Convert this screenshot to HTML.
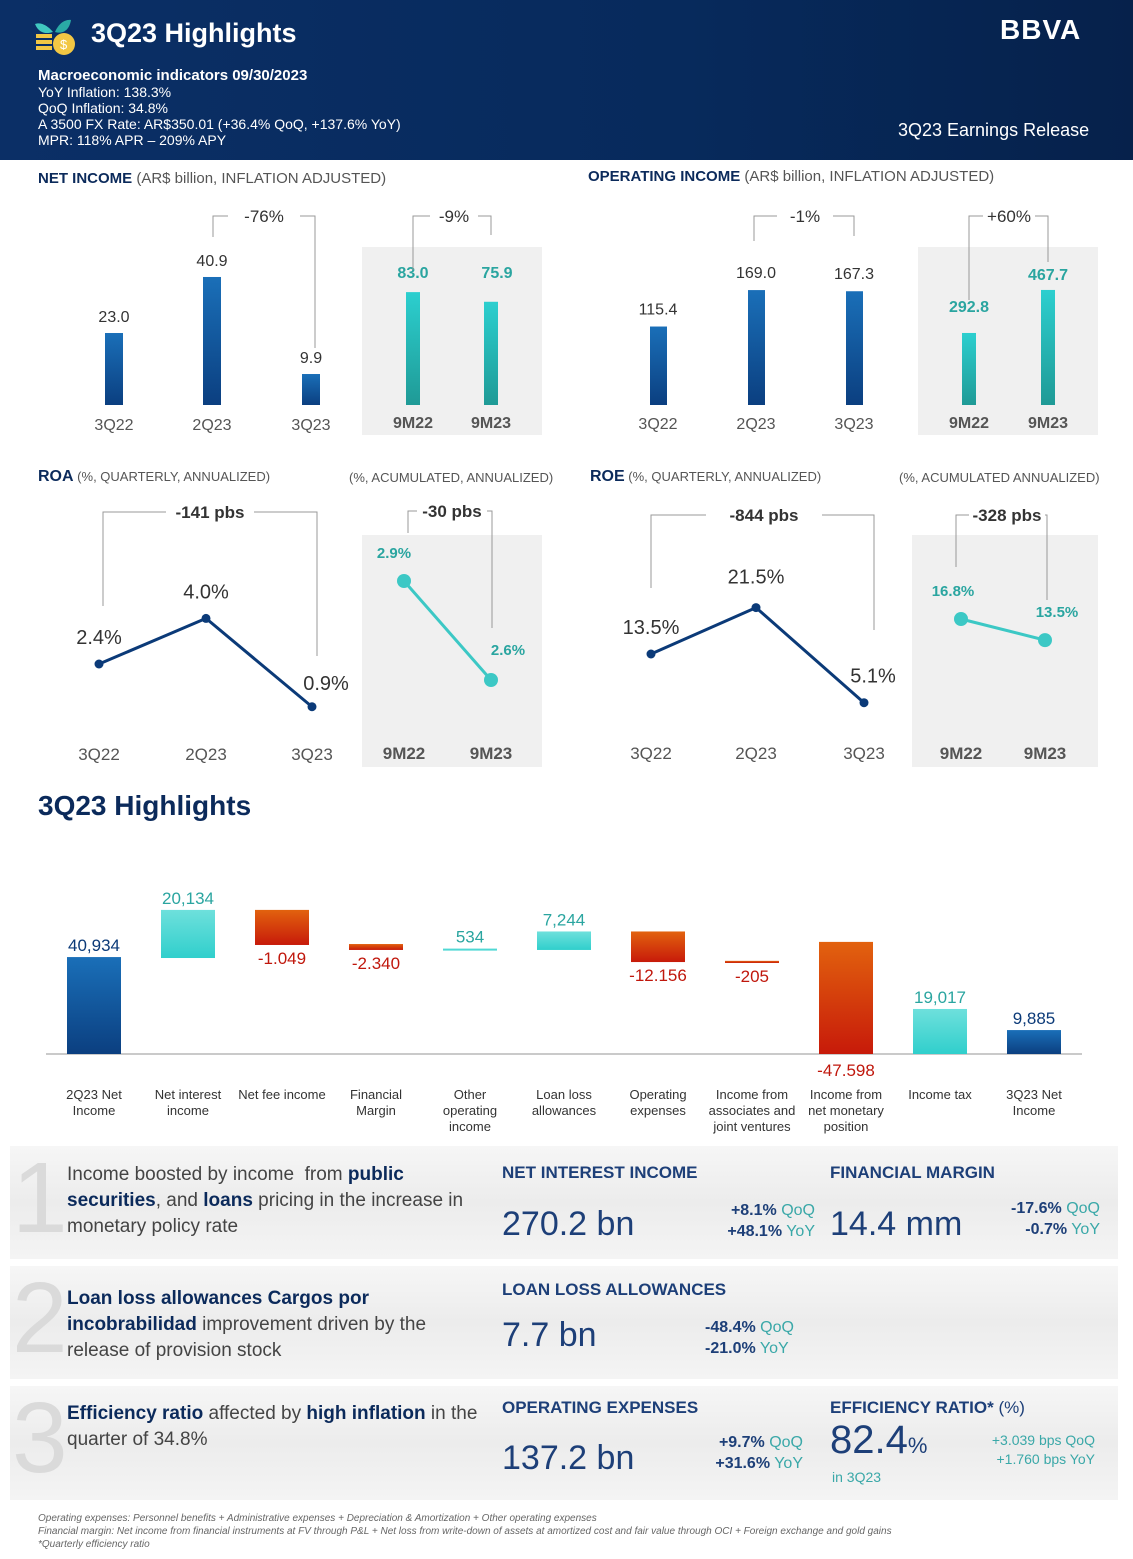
<!DOCTYPE html>
<html><head><meta charset="utf-8">
<style>
*{margin:0;padding:0;box-sizing:border-box}
body{width:1133px;height:1559px;position:relative;background:#fff;font-family:"Liberation Sans",sans-serif;overflow:hidden;color:#333}
.abs{position:absolute;white-space:nowrap}
#hdr{position:absolute;left:0;top:0;width:1133px;height:160px;background:linear-gradient(90deg,#0b2f66 0%,#072a5c 60%,#06214b 100%)}
.sect{font-size:15px;color:#555}
.sect b{color:#0b2a5b}
.panel{position:absolute;left:10px;width:1108px;background:linear-gradient(180deg,#f6f6f6,#ececec 50%,#f4f4f4)}
.big{font-size:34px;color:#1d3f78;font-weight:300}
.kt{font-size:17px;font-weight:bold;color:#1d3f78}
.chg{font-size:16px;color:#1d3f78;text-align:right;line-height:21px}
.chg b{font-weight:bold}
.chg span{color:#3aa8a8}
.desc{font-size:19px;color:#444;line-height:26px}
.desc b{color:#0b2a5b}
.num{font-size:100px;color:#dadada;font-weight:300;line-height:100px}
</style></head><body>
<div id="hdr">
  <svg class="abs" style="left:33px;top:16px" width="48" height="40">
    <path d="M20 16 C10 4 2 8 2 8 C6 18 14 18 20 16Z" fill="#41c8c0"/>
    <path d="M22 16 C28 2 38 4 38 4 C36 16 28 18 22 16Z" fill="#2aaaa5"/>
    <rect x="3" y="18" width="16" height="4" fill="#f2c744"/><rect x="3" y="24" width="16" height="4" fill="#f2c744"/><rect x="3" y="30" width="16" height="4" fill="#f2c744"/>
    <circle cx="31" cy="28" r="11" fill="#f2c744"/><text x="27" y="33" font-size="13" fill="#fff" font-family="Liberation Sans">$</text>
  </svg>
  <div class="abs" style="left:91px;top:18px;font-size:27px;color:#fff;font-weight:bold">3Q23 Highlights</div>
  <div class="abs" style="left:1000px;top:14px;font-size:28px;color:#fff;font-weight:bold;letter-spacing:1px">BBVA</div>
  <div class="abs" style="left:38px;top:67px;font-size:14px;color:#fff;line-height:16px">
    <b style="font-size:15px">Macroeconomic indicators 09/30/2023</b><br>YoY Inflation: 138.3%<br>QoQ Inflation: 34.8%<br>A 3500 FX Rate: AR$350.01 (+36.4% QoQ, +137.6% YoY)<br>MPR: 118% APR – 209% APY
  </div>
  <div class="abs" style="left:898px;top:120px;font-size:18px;color:#fff">3Q23 Earnings Release</div>
</div>

<div class="abs sect" style="left:38px;top:170px"><b>NET INCOME</b> (AR$ billion, INFLATION ADJUSTED)</div>
<div class="abs sect" style="left:588px;top:168px"><b>OPERATING INCOME</b> (AR$ billion, INFLATION ADJUSTED)</div>
<div class="abs sect" style="left:38px;top:468px;font-size:13px"><b style="font-size:16px">ROA</b> (%, QUARTERLY, ANNUALIZED)</div>
<div class="abs sect" style="left:349px;top:470px;font-size:13px">(%, ACUMULATED, ANNUALIZED)</div>
<div class="abs sect" style="left:590px;top:468px;font-size:13px"><b style="font-size:16px">ROE</b> (%, QUARTERLY, ANNUALIZED)</div>
<div class="abs sect" style="left:899px;top:470px;font-size:13px">(%, ACUMULATED ANNUALIZED)</div>
<div class="abs" style="left:38px;top:790px;font-size:28px;font-weight:bold;color:#0b2a5b">3Q23 Highlights</div>

<svg id="charts" class="abs" style="left:0;top:0" width="1133" height="1140">
  <defs>
    <linearGradient id="gBlue" x1="0" y1="0" x2="0" y2="1"><stop offset="0" stop-color="#1a6fb8"/><stop offset="1" stop-color="#0b3f80"/></linearGradient>
    <linearGradient id="gTeal" x1="0" y1="0" x2="0" y2="1"><stop offset="0" stop-color="#2ccfcf"/><stop offset="1" stop-color="#1f9a96"/></linearGradient>
    <linearGradient id="gAqua" x1="0" y1="0" x2="0" y2="1"><stop offset="0" stop-color="#6ee0dc"/><stop offset="1" stop-color="#30cfcc"/></linearGradient>
    <linearGradient id="gRed" x1="0" y1="0" x2="0" y2="1"><stop offset="0" stop-color="#e2620e"/><stop offset="1" stop-color="#c71a0a"/></linearGradient>
  </defs>
</svg>

<div class="panel" style="top:1146px;height:113px"></div>
<div class="panel" style="top:1266px;height:113px"></div>
<div class="panel" style="top:1386px;height:114px"></div>

<div class="abs num" style="left:12px;top:1148px">1</div>
<div class="abs num" style="left:12px;top:1268px">2</div>
<div class="abs num" style="left:12px;top:1388px">3</div>

<div class="abs desc" style="left:67px;top:1162px">Income boosted by income&nbsp; from <b>public</b><br><b>securities</b>, and <b>loans</b> pricing in the increase in<br>monetary policy rate</div>
<div class="abs desc" style="left:67px;top:1286px"><b>Loan loss allowances Cargos por</b><br><b>incobrabilidad</b> improvement driven by the<br>release of provision stock</div>
<div class="abs desc" style="left:67px;top:1401px"><b>Efficiency ratio</b> affected by <b>high inflation</b> in the<br>quarter of 34.8%</div>

<div class="abs kt" style="left:502px;top:1163px">NET INTEREST INCOME</div>
<div class="abs big" style="left:502px;top:1205px">270.2 bn</div>
<div class="abs chg" style="left:705px;top:1200px;width:110px"><b>+8.1%</b> <span>QoQ</span><br><b>+48.1%</b> <span>YoY</span></div>
<div class="abs kt" style="left:830px;top:1163px">FINANCIAL MARGIN</div>
<div class="abs big" style="left:830px;top:1205px">14.4 mm</div>
<div class="abs chg" style="left:990px;top:1198px;width:110px"><b>-17.6%</b> <span>QoQ</span><br><b>-0.7%</b> <span>YoY</span></div>

<div class="abs kt" style="left:502px;top:1280px">LOAN LOSS ALLOWANCES</div>
<div class="abs big" style="left:502px;top:1316px">7.7 bn</div>
<div class="abs chg" style="left:705px;top:1317px;width:102px;text-align:left"><b>-48.4%</b> <span>QoQ</span><br><b>-21.0%</b> <span>YoY</span></div>

<div class="abs kt" style="left:502px;top:1398px">OPERATING EXPENSES</div>
<div class="abs big" style="left:502px;top:1439px">137.2 bn</div>
<div class="abs chg" style="left:695px;top:1432px;width:108px"><b>+9.7%</b> <span>QoQ</span><br><b>+31.6%</b> <span>YoY</span></div>
<div class="abs kt" style="left:830px;top:1398px;font-weight:bold">EFFICIENCY RATIO* <span style="font-weight:normal">(%)</span></div>
<div class="abs big" style="left:830px;top:1418px;font-size:40px">82.4<span style="font-size:22px">%</span></div>
<div class="abs" style="left:832px;top:1469px;font-size:14px;color:#3aa8a8">in 3Q23</div>
<div class="abs" style="left:960px;top:1431px;width:135px;font-size:14px;color:#3aa8a8;text-align:right;line-height:19px">+3.039 bps QoQ<br>+1.760 bps YoY</div>

<div class="abs" style="left:38px;top:1512px;font-size:10px;color:#666;font-style:italic;line-height:13px">Operating expenses: Personnel benefits + Administrative expenses + Depreciation &amp; Amortization + Other operating expenses<br>Financial margin: Net income from financial instruments at FV through P&amp;L + Net loss from write-down of assets at amortized cost and fair value through OCI + Foreign exchange and gold gains<br>*Quarterly efficiency ratio</div>

<script>
// Net income
var niCats = ["3Q22","2Q23","3Q23"];
var niVals = [23.0, 40.9, 9.9];
var niAccCats = ["9M22","9M23"];
var niAccVals = [83.0, 75.9];
// Operating income
var oiCats = ["3Q22","2Q23","3Q23"];
var oiVals = [115.4, 169.0, 167.3];
var oiAccCats = ["9M22","9M23"];
var oiAccVals = [292.8, 467.7];
// ROA / ROE
var roaVals = [2.4, 4.0, 0.9];
var roaAccVals = [2.9, 2.6];
var roeVals = [13.5, 21.5, 5.1];
var roeAccVals = [16.8, 13.5];
// Waterfall
var wfCats = [["2Q23 Net","Income"],["Net interest","income"],["Net fee income"],["Financial","Margin"],["Other","operating","income"],["Loan loss","allowances"],["Operating","expenses"],["Income from","associates and","joint ventures"],["Income from","net monetary","position"],["Income tax"],["3Q23 Net","Income"]];
var wfLow  = [0, 40.5, 46.0, 43.9, 43.9, 43.9, 38.8, 38.4, 0, 0, 0];
var wfHigh = [40.9, 60.8, 60.8, 46.4, 44.5, 51.7, 51.7, 39.3, 47.3, 19.0, 10.1];
var wfLabels = ["40,934","20,134","-1.049","-2.340","534","7,244","-12.156","-205","-47.598","19,017","9,885"];
var wfKind = ["total","up","down","down","up","up","down","down","down","up","total"];

var svg = document.getElementById('charts');
var NS = "http://www.w3.org/2000/svg";
function el(tag, attrs, name, parent){
  var e = document.createElementNS(NS, tag);
  for (var k in attrs) e.setAttribute(k, attrs[k]);
  
  
  (parent||svg).appendChild(e);
  return e;
}
function txt(x,y,s,opts,name){
  var a = {x:x,y:y,"font-family":"Liberation Sans, sans-serif","font-size":opts.size||16,fill:opts.fill||"#333","text-anchor":opts.anchor||"middle"};
  if(opts.bold) a["font-weight"]="bold";
  var t = el('text', a, name);
  t.textContent = s;
  return t;
}
function bracket(x1,y1b,x2,y2b,yTop,label,lx,gap,name){
  var p = "M"+x1+","+y1b+" V"+yTop+" H"+(lx-gap)+" M"+(lx+gap)+","+yTop+" H"+x2+" V"+y2b;
  el('path',{d:p,fill:"none",stroke:"#999","stroke-width":1},name+"-line");
  txt(lx,yTop+6,label,{size:17,fill:"#333",bold:label.indexOf('pbs')>=0},name+"-label");
}
function panel(x,y,w,h,name){ el('rect',{x:x,y:y,width:w,height:h,fill:"#f0f0f0"},name); }

// ---- Net income ----
panel(362,247,180,188,"net-income-accum-bg");
var niX = [114,212,311], niBase=405, niK=3.13;
niVals.forEach(function(v,i){
  var h=v*niK;
  el('rect',{x:niX[i]-9,y:niBase-h,width:18,height:h,fill:"url(#gBlue)"},"net-income-bar-"+niCats[i].toLowerCase());
  txt(niX[i],niBase-h-11,v.toFixed(1),{size:16},"net-income-value-"+niCats[i].toLowerCase());
  txt(niX[i],430,niCats[i],{size:16,fill:"#555"},"net-income-x-label");
});
var niAX=[413,491], niAK=1.36;
niAccVals.forEach(function(v,i){
  var h=v*niAK;
  el('rect',{x:niAX[i]-7,y:niBase-h,width:14,height:h,fill:"url(#gTeal)"},"net-income-accum-bar");
  txt(niAX[i]+(i?6:0),278,v.toFixed(1),{size:16,fill:"#2aa5a0",bold:true},"net-income-accum-value");
  txt(niAX[i],428,niAccCats[i],{size:16,fill:"#555",bold:true},"net-income-accum-x-label");
});
bracket(213,237,315,348,216,"-76%",264,36,"net-income-change-bracket");
bracket(413,270,491,235,216,"-9%",454,24,"net-income-accum-change-bracket");

// ---- Operating income ----
panel(918,247,180,188,"operating-income-accum-bg");
var oiX=[658,756,854], oiK=0.68;
oiVals.forEach(function(v,i){
  var h=v*oiK;
  el('rect',{x:oiX[i]-8,y:niBase-h,width:17,height:h,fill:"url(#gBlue)"},"operating-income-bar");
  txt(oiX[i],niBase-h-12,v.toFixed(1),{size:16},"operating-income-value");
  txt(oiX[i],429,oiCats[i],{size:16,fill:"#555"},"operating-income-x-label");
});
var oiAX=[969,1048], oiAK=0.246;
oiAccVals.forEach(function(v,i){
  var h=v*oiAK;
  el('rect',{x:oiAX[i]-7,y:niBase-h,width:14,height:h,fill:"url(#gTeal)"},"operating-income-accum-bar");
  txt(oiAX[i],niBase-h-(i?10:21),v.toFixed(1),{size:16,fill:"#2aa5a0",bold:true},"operating-income-accum-value");
  txt(oiAX[i],428,oiAccCats[i],{size:16,fill:"#555",bold:true},"operating-income-accum-x-label");
});
bracket(754,241,854,236,216,"-1%",805,28,"operating-income-change-bracket");
bracket(969,300,1048,262,216,"+60%",1009,26,"operating-income-accum-change-bracket");

// ---- ROA ----
panel(362,535,180,232,"roa-accum-bg");
function lineChart(xs,vals,y0,v0,k,color,r,w,name,lblOff,lblSize,bold){
  var pts = vals.map(function(v,i){return [xs[i], y0-(v-v0)*k];});
  el('polyline',{points:pts.map(function(p){return p.join(',');}).join(' '),fill:"none",stroke:color,"stroke-width":w},name+"-line");
  pts.forEach(function(p,i){
    el('circle',{cx:p[0],cy:p[1],r:r,fill:color},name+"-point");
    txt(p[0]+lblOff[i][0],p[1]+lblOff[i][1],vals[i].toFixed(1)+"%",{size:lblSize,fill:bold?"#2aa5a0":"#333",bold:bold},name+"-value-label");
  });
}
lineChart([99,206,312],roaVals,664,2.4,28.5,"#0b3a78",4.5,3,"roa",[[0,-20],[0,-20],[14,-17]],20,false);
lineChart([404,491],roaAccVals,581,2.9,330,"#3cc8c5",7,3,"roa-accum",[[-10,-23],[17,-25]],15,true);
["3Q22","2Q23","3Q23"].forEach(function(c,i){txt([99,206,312][i],760,c,{size:17,fill:"#555"},"roa-x-label");});
["9M22","9M23"].forEach(function(c,i){txt([404,491][i],759,c,{size:17,fill:"#555",bold:true},"roa-accum-x-label");});
bracket(103,606,317,656,512,"-141 pbs",210,44,"roa-change-bracket");
bracket(408,533,492,628,511,"-30 pbs",452,35,"roa-accum-change-bracket");

// ---- ROE ----
panel(912,535,186,232,"roe-accum-bg");
lineChart([651,756,864],roeVals,654,13.5,5.8,"#0b3a78",4.5,3,"roe",[[0,-20],[0,-24],[9,-20]],20,false);
lineChart([961,1045],roeAccVals,619,16.8,6.4,"#3cc8c5",7,3,"roe-accum",[[-8,-23],[12,-23]],15,true);
["3Q22","2Q23","3Q23"].forEach(function(c,i){txt([651,756,864][i],759,c,{size:17,fill:"#555"},"roe-x-label");});
["9M22","9M23"].forEach(function(c,i){txt([961,1045][i],759,c,{size:17,fill:"#555",bold:true},"roe-accum-x-label");});
bracket(651,588,874,630,515,"-844 pbs",764,58,"roe-change-bracket");
bracket(956,567,1047,600,515,"-328 pbs",1007,38,"roe-accum-change-bracket");

// ---- Waterfall ----
var wfBase=1054, wfK=2.37, wfX0=94, wfStep=94.0, wfW=54;
el('line',{x1:46,y1:wfBase,x2:1082,y2:wfBase,stroke:"#aaa","stroke-width":1.2},"waterfall-baseline");
wfCats.forEach(function(c,i){
  var cx = wfX0 + i*wfStep;
  var yTop = wfBase - wfHigh[i]*wfK, yBot = wfBase - wfLow[i]*wfK;
  var kind = wfKind[i];
  var fill = kind=="total"?"url(#gBlue)":(kind=="up"?"url(#gAqua)":"url(#gRed)");
  el('rect',{x:cx-wfW/2,y:yTop,width:wfW,height:Math.max(yBot-yTop,2),fill:fill},"waterfall-bar");
  var col = kind=="total"?"#0b3a78":(kind=="up"?"#2aa5a0":"#c0170c");
  var ly = (kind=="down") ? (i==8 ? yBot+22 : yBot+19) : yTop-6;
  txt(cx,ly,wfLabels[i],{size:17,fill:col},"waterfall-value-label");
  c.forEach(function(line,j){ txt(cx,1099+j*16,line,{size:13,fill:"#333"},"waterfall-category-label"); });
});
</script>
</body></html>
